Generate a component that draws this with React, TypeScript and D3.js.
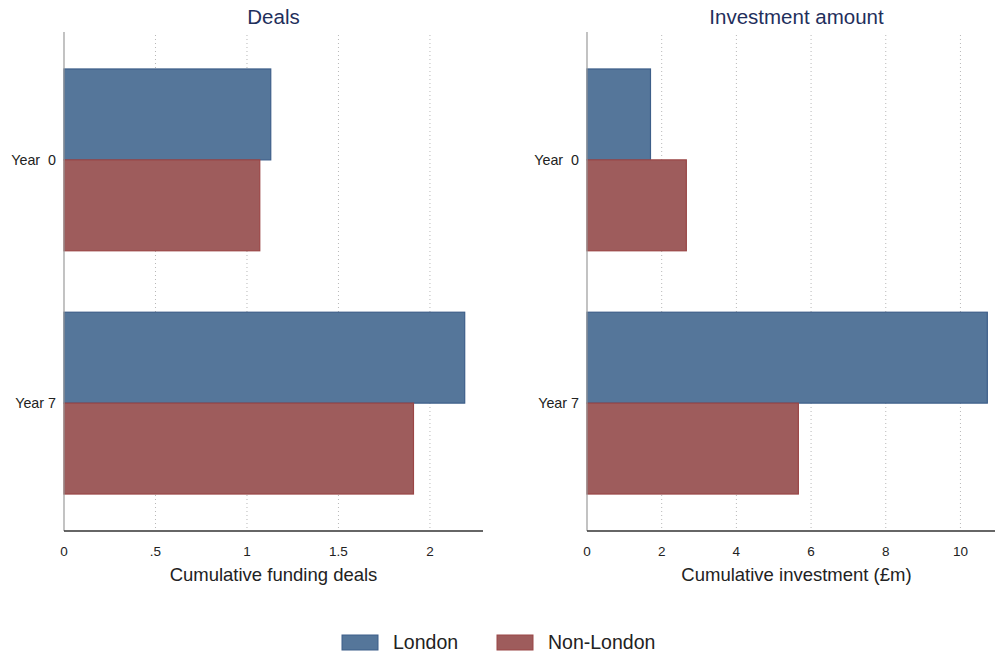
import React from "react";
import * as d3 from "d3";

// Categories (y-axis) and series
const categories = ["Year  0", "Year 7"];
const seriesNames = ["London", "Non-London"];

// Cumulative funding deals
const dealsLondon = [1.13, 2.19];
const dealsNonLondon = [1.07, 1.91];

// Cumulative investment (£m)
const investLondon = [1.7, 10.72];
const investNonLondon = [2.66, 5.66];

const dealsTicks = [0, 0.5, 1, 1.5, 2];
const dealsTickLabels = ["0", ".5", "1", "1.5", "2"];
const investTicks = [0, 2, 4, 6, 8, 10];
const investTickLabels = ["0", "2", "4", "6", "8", "10"];

const W = 995;
const H = 654;
const FONT = "'Liberation Sans', Arial, Helvetica, sans-serif";
const COLORS = { fill: ["#55769a", "#9e5c5c"], stroke: ["#3d5e89", "#9a4646"] };

const plotTop = 32;
const plotBottom = 531;

const yBand = d3
  .scaleBand<string>()
  .domain(categories)
  .range([plotTop, plotBottom])
  .paddingInner(0.2526)
  .paddingOuter(0.152);

const ySub = d3.scaleBand<string>().domain(seriesNames).range([0, yBand.bandwidth()]).padding(0);

type PanelProps = {
  title: string;
  axisTitle: string;
  x0: number;
  x1: number;
  domainMax: number;
  ticks: number[];
  tickLabels: string[];
  london: number[];
  nonLondon: number[];
};

function Panel({ title, axisTitle, x0, x1, domainMax, ticks, tickLabels, london, nonLondon }: PanelProps) {
  const x = d3.scaleLinear().domain([0, domainMax]).range([x0, x1]);
  const cx = (x0 + x1) / 2;
  const values = [london, nonLondon];
  return (
    <g>
      <text x={cx} y={24} textAnchor="middle" fontSize={20.5} fill="#1f2f5c" fontFamily={FONT}>
        {title}
      </text>
      {ticks
        .filter((t) => t !== 0)
        .map((t) => (
          <line
            key={"g" + t}
            x1={x(t)}
            x2={x(t)}
            y1={plotTop + 3}
            y2={plotBottom}
            stroke="#b8b8b8"
            strokeWidth={1}
            strokeDasharray="1,3"
          />
        ))}
      {categories.map((c, ci) =>
        seriesNames.map((s, si) => {
          const y = (yBand(c) ?? 0) + (ySub(s) ?? 0);
          const v = values[si][ci];
          return (
            <rect
              key={c + s}
              x={x(0)}
              y={y}
              width={x(v) - x(0)}
              height={ySub.bandwidth()}
              fill={COLORS.fill[si]}
              stroke={COLORS.stroke[si]}
              strokeWidth={1.2}
            />
          );
        })
      )}
      <line x1={x0} x2={x0} y1={plotTop} y2={plotBottom} stroke="#9a9a9a" strokeWidth={1.2} />
      <line x1={x0} x2={x1} y1={plotBottom} y2={plotBottom} stroke="#333" strokeWidth={1.3} />
      {ticks.map((t, i) => (
        <text
          key={"t" + t}
          x={x(t)}
          y={556}
          textAnchor="middle"
          fontSize={13.5}
          fill="#222"
          fontFamily={FONT}
        >
          {tickLabels[i]}
        </text>
      ))}
      {categories.map((c) => (
        <text
          key={"c" + c}
          x={x0 - 8}
          y={(yBand(c) ?? 0) + yBand.bandwidth() / 2 + 5}
          textAnchor="end"
          fontSize={14.3}
          fill="#222"
          fontFamily={FONT}
          style={{ whiteSpace: "pre" }}
        >
          {c}
        </text>
      ))}
      <text x={cx} y={581} textAnchor="middle" fontSize={18.5} fill="#222" fontFamily={FONT}>
        {axisTitle}
      </text>
    </g>
  );
}

export default function App() {
  const legendItems = [
    { name: seriesNames[0], sx: 342, tx: 393 },
    { name: seriesNames[1], sx: 497, tx: 548 },
  ];
  return (
    <svg
      width={W}
      height={H}
      viewBox={`0 0 ${W} ${H}`}
      style={{ position: "absolute", left: 0, top: 0, background: "#fff" }}
    >
      <rect x={0} y={0} width={W} height={H} fill="#fff" />
      <Panel
        title="Deals"
        axisTitle="Cumulative funding deals"
        x0={64}
        x1={483}
        domainMax={2.29}
        ticks={dealsTicks}
        tickLabels={dealsTickLabels}
        london={dealsLondon}
        nonLondon={dealsNonLondon}
      />
      <Panel
        title="Investment amount"
        axisTitle="Cumulative investment (£m)"
        x0={587}
        x1={1006}
        domainMax={11.22}
        ticks={investTicks}
        tickLabels={investTickLabels}
        london={investLondon}
        nonLondon={investNonLondon}
      />
      {legendItems.map((it, i) => (
        <g key={it.name}>
          <rect
            x={it.sx}
            y={635}
            width={36}
            height={15}
            fill={COLORS.fill[i]}
            stroke={COLORS.stroke[i]}
            strokeWidth={1}
          />
          <text x={it.tx} y={649} fontSize={19.5} fill="#222" fontFamily={FONT}>
            {it.name}
          </text>
        </g>
      ))}
    </svg>
  );
}
